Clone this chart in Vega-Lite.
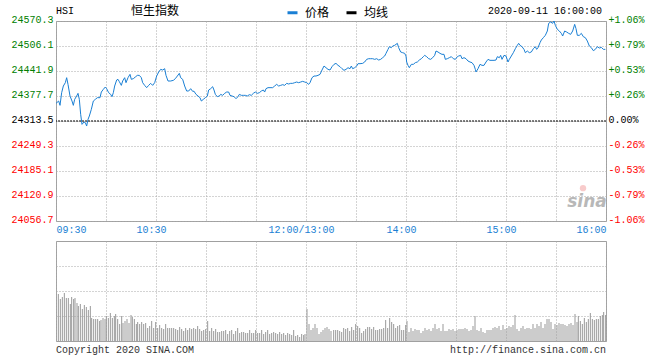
{
"$schema": "https://vega.github.io/schema/vega-lite/v6.json",
"background": "white",
"padding": {"left": 10, "top": 4, "right": 5, "bottom": 4},
"bounds": "flush",
"spacing": 20,
"config": {
  "view": {"stroke": "#a0a0a0", "strokeWidth": 1},
  "font": "Liberation Mono",
  "scale": {"continuousPadding": 0},
  "axis": {"labelFont": "Liberation Mono", "labelFontSize": 10, "ticks": false, "domain": false, "title": null, "gridColor": "#a8a8a8", "gridDash": [1, 2], "gridOpacity": 1, "gridWidth": 1, "labelOverlap": false, "labelBound": false}
},
"datasets": {
  "price": [
{"t":0,"p":24358.8},{"t":1.6,"p":24364.8},{"t":2.4,"p":24353.7},{"t":3.4,"p":24386.2},{"t":4.4,"p":24403.3},{"t":5.6,"p":24411.9},{"t":6.4,"p":24424.7},{"t":7.2,"p":24407.6},{"t":8.4,"p":24377.7},{"t":9.6,"p":24364.8},{"t":10.4,"p":24353.7},{"t":11.2,"p":24369.1},{"t":12.4,"p":24377.7},{"t":13.2,"p":24384.5},{"t":14,"p":24369.1},{"t":14.8,"p":24330.6},{"t":15.6,"p":24304.9},{"t":16.8,"p":24310.9},{"t":17.6,"p":24309.2},{"t":18.4,"p":24300.6},{"t":19.2,"p":24317.7},{"t":20,"p":24326.3},{"t":21.2,"p":24343.4},{"t":22.4,"p":24364.8},{"t":23.6,"p":24369.1},{"t":24.8,"p":24373.4},{"t":26.4,"p":24373.4},{"t":27.2,"p":24387.9},{"t":28.4,"p":24394.8},{"t":29.6,"p":24400.8},{"t":30.4,"p":24396.5},{"t":31.6,"p":24386.2},{"t":32.8,"p":24381.9},{"t":33.6,"p":24376.0},{"t":34.4,"p":24386.2},{"t":35.2,"p":24403.3},{"t":36.4,"p":24418.8},{"t":37.2,"p":24420.5},{"t":38,"p":24414.5},{"t":39.2,"p":24405.0},{"t":40,"p":24416.2},{"t":41.2,"p":24424.7},{"t":42,"p":24411.9},{"t":43.2,"p":24424.7},{"t":44.4,"p":24433.3},{"t":45.2,"p":24420.5},{"t":46.4,"p":24422.2},{"t":47.6,"p":24426.5},{"t":48.8,"p":24430.7},{"t":50,"p":24430.7},{"t":51.2,"p":24424.7},{"t":52,"p":24411.9},{"t":53.2,"p":24405.0},{"t":54.4,"p":24399.1},{"t":55.6,"p":24405.0},{"t":56.8,"p":24410.2},{"t":58,"p":24405.0},{"t":59.2,"p":24411.9},{"t":60.4,"p":24429.0},{"t":61.6,"p":24439.3},{"t":62.8,"p":24446.1},{"t":64,"p":24444.4},{"t":65.2,"p":24447.8},{"t":66,"p":24430.7},{"t":67.2,"p":24416.2},{"t":68.8,"p":24416.2},{"t":70.4,"p":24417.9},{"t":71.6,"p":24422.2},{"t":72.8,"p":24429.0},{"t":74,"p":24435.9},{"t":74.8,"p":24424.7},{"t":76,"p":24420.5},{"t":77.2,"p":24403.3},{"t":78.4,"p":24390.5},{"t":79.6,"p":24390.5},{"t":80.8,"p":24396.5},{"t":82,"p":24389.6},{"t":82.8,"p":24390.0},
{"t":84,"p":24381.9},{"t":85.2,"p":24377.7},{"t":86.4,"p":24373.4},{"t":87.2,"p":24364.8},{"t":88.4,"p":24369.1},{"t":89.6,"p":24373.4},{"t":90.8,"p":24377.7},{"t":91.6,"p":24393.1},{"t":92.8,"p":24396.5},{"t":94,"p":24401.6},{"t":94.8,"p":24393.1},{"t":95.6,"p":24381.9},{"t":96.8,"p":24376.0},{"t":98,"p":24377.7},{"t":98.8,"p":24381.9},{"t":100,"p":24379.4},{"t":101.2,"p":24384.5},{"t":102.4,"p":24387.9},{"t":103.6,"p":24387.9},{"t":104.4,"p":24379.4},{"t":105.6,"p":24377.7},{"t":106.8,"p":24376.0},{"t":108,"p":24370.8},{"t":109.2,"p":24376.0},{"t":110,"p":24381.9},{"t":111.2,"p":24379.4},{"t":112.4,"p":24379.4},{"t":113.6,"p":24379.4},{"t":114.8,"p":24377.7},{"t":116,"p":24381.1},{"t":117.2,"p":24379.4},{"t":118.4,"p":24384.5},{"t":119.6,"p":24387.9},{"t":120.8,"p":24384.5},{"t":122,"p":24386.2},{"t":123.2,"p":24390.5},{"t":124.4,"p":24393.1},{"t":125.2,"p":24387.9},{"t":126,"p":24396.5},{"t":127.2,"p":24399.1},{"t":128.4,"p":24399.1},{"t":130,"p":24399.1},{"t":131.2,"p":24403.3},{"t":132.4,"p":24407.6},{"t":133.6,"p":24403.3},{"t":134.8,"p":24405.0},{"t":136,"p":24406.8},{"t":137.2,"p":24405.0},{"t":138.4,"p":24410.2},{"t":139.6,"p":24408.5},{"t":140.8,"p":24410.2},{"t":142,"p":24410.2},{"t":143.2,"p":24411.9},{"t":144.4,"p":24413.6},{"t":145.6,"p":24411.9},{"t":146.8,"p":24413.6},{"t":148,"p":24415.3},{"t":149.2,"p":24413.6},{"t":150.4,"p":24411.9},{"t":151.6,"p":24407.6},{"t":152.4,"p":24411.9},{"t":153.6,"p":24424.7},{"t":154.8,"p":24429.0},{"t":156,"p":24429.0},{"t":157.2,"p":24430.7},{"t":158.4,"p":24433.3},{"t":159.6,"p":24444.4},{"t":160.8,"p":24454.7},{"t":162,"p":24450.4},{"t":163.2,"p":24446.1},{"t":164.4,"p":24444.4},{"t":165.6,"p":24453.0},{"t":166.8,"p":24459.0},
{"t":168,"p":24461.5},{"t":169.2,"p":24456.4},{"t":170.4,"p":24453.0},{"t":171.6,"p":24447.8},{"t":172.8,"p":24443.6},{"t":174,"p":24446.1},{"t":175.2,"p":24450.4},{"t":176.4,"p":24447.8},{"t":177.2,"p":24454.7},{"t":178,"p":24447.8},{"t":179.2,"p":24450.4},{"t":180.4,"p":24454.7},{"t":181.2,"p":24460.7},{"t":182.4,"p":24460.7},{"t":184,"p":24461.5},{"t":185.2,"p":24465.0},{"t":186.4,"p":24471.8},{"t":187.6,"p":24473.5},{"t":188.8,"p":24473.5},{"t":190,"p":24473.5},{"t":191.2,"p":24471.8},{"t":192.4,"p":24473.5},{"t":193.6,"p":24470.1},{"t":194.8,"p":24471.8},{"t":196,"p":24476.1},{"t":197.2,"p":24480.4},{"t":198,"p":24487.2},{"t":199.2,"p":24497.5},{"t":200,"p":24504.3},{"t":201.2,"p":24501.8},{"t":202,"p":24506.1},{"t":203.2,"p":24507.8},{"t":204,"p":24510.3},{"t":204.8,"p":24512.9},{"t":205.6,"p":24501.8},{"t":206.8,"p":24490.7},{"t":208,"p":24488.9},{"t":209.2,"p":24487.2},{"t":210,"p":24480.4},{"t":210.4,"p":24465.0},{"t":211.2,"p":24456.4},{"t":212,"p":24450.4},{"t":213.2,"p":24459.0},{"t":214.4,"p":24459.0},{"t":215.6,"p":24463.3},{"t":216.8,"p":24465.0},{"t":218,"p":24470.1},{"t":219.2,"p":24473.5},{"t":220.4,"p":24478.7},{"t":221.2,"p":24482.1},{"t":222.4,"p":24478.7},{"t":223.6,"p":24473.5},{"t":224.8,"p":24471.8},{"t":226,"p":24476.1},{"t":227.2,"p":24482.1},{"t":228,"p":24493.2},{"t":229.2,"p":24490.7},{"t":230.4,"p":24487.2},{"t":231.6,"p":24484.7},{"t":232.8,"p":24484.7},{"t":233.6,"p":24471.8},{"t":234.8,"p":24473.5},{"t":236,"p":24476.1},{"t":237.2,"p":24478.7},{"t":238.4,"p":24473.5},{"t":239.6,"p":24471.8},{"t":240.8,"p":24478.7},{"t":241.6,"p":24480.4},{"t":242.8,"p":24482.1},{"t":243.6,"p":24473.5},{"t":244.8,"p":24476.1},{"t":246,"p":24473.5},{"t":247.2,"p":24467.5},{"t":248.4,"p":24465.0},{"t":249.6,"p":24463.3},{"t":250.8,"p":24456.4},{"t":251.6,"p":24446.1},
{"t":252,"p":24439.3},{"t":253.2,"p":24447.8},{"t":254.4,"p":24459.0},{"t":255.6,"p":24456.4},{"t":256.8,"p":24456.4},{"t":258,"p":24465.0},{"t":259.2,"p":24471.8},{"t":260.4,"p":24469.3},{"t":261.6,"p":24469.3},{"t":262.8,"p":24469.3},{"t":264,"p":24470.1},{"t":264.8,"p":24478.7},{"t":266,"p":24476.1},{"t":266.8,"p":24482.1},{"t":267.6,"p":24471.8},{"t":268.8,"p":24482.1},{"t":270,"p":24480.4},{"t":271.2,"p":24465.0},{"t":272,"p":24471.8},{"t":273.2,"p":24480.4},{"t":274.4,"p":24488.9},{"t":275.6,"p":24499.2},{"t":276.8,"p":24507.8},{"t":277.6,"p":24512.9},{"t":278.4,"p":24507.8},{"t":279.6,"p":24504.3},{"t":280.8,"p":24497.5},{"t":281.6,"p":24488.9},{"t":282.8,"p":24493.2},{"t":284,"p":24488.9},{"t":285.2,"p":24490.7},{"t":286.4,"p":24499.2},{"t":287.6,"p":24504.3},{"t":288.4,"p":24497.5},{"t":289.2,"p":24501.8},{"t":290.4,"p":24514.6},{"t":291.2,"p":24521.5},{"t":292.4,"p":24527.5},{"t":293.6,"p":24533.5},{"t":294.8,"p":24544.6},{"t":295.6,"p":24564.3},{"t":296.8,"p":24567.7},{"t":298,"p":24564.3},{"t":298.8,"p":24570.3},{"t":299.6,"p":24559.1},{"t":300.8,"p":24548.9},{"t":302,"p":24544.6},{"t":303.2,"p":24538.6},{"t":304,"p":24531.7},{"t":305.2,"p":24544.6},{"t":306.4,"p":24542.0},{"t":307.6,"p":24538.6},{"t":308.8,"p":24536.0},{"t":310,"p":24544.6},{"t":311.2,"p":24561.7},{"t":312,"p":24550.6},{"t":312.8,"p":24533.5},{"t":314,"p":24533.5},{"t":315.2,"p":24538.6},{"t":316.4,"p":24530.0},{"t":317.6,"p":24527.5},{"t":318.8,"p":24518.9},{"t":320,"p":24506.1},{"t":321.2,"p":24501.8},{"t":322.4,"p":24494.1},{"t":323.6,"p":24497.5},{"t":324.8,"p":24504.3},{"t":326,"p":24500.9},{"t":327.2,"p":24502.6},{"t":328.4,"p":24497.5},{"t":329.6,"p":24497.5}
  ],
  "vol": [
{"t":1.4,"v":47},{"t":2.6,"v":42},{"t":3.8,"v":44},{"t":5,"v":48},{"t":6.2,"v":43},{"t":7.4,"v":43},{"t":8.6,"v":37},{"t":9.4,"v":44},{"t":10.6,"v":42},{"t":11.4,"v":43},{"t":12.6,"v":38},{"t":13.4,"v":35},{"t":14.6,"v":37},{"t":15.8,"v":32},{"t":17,"v":36},{"t":18.2,"v":34},{"t":19.4,"v":31},{"t":20.6,"v":35},{"t":21.4,"v":23},{"t":22.6,"v":22},{"t":23.8,"v":22},{"t":25,"v":22},{"t":26.2,"v":20},{"t":27,"v":21},{"t":28.2,"v":23},{"t":29.4,"v":22},{"t":30.2,"v":25},{"t":31.4,"v":23},{"t":32.6,"v":28},{"t":33.8,"v":23},{"t":35,"v":25},{"t":35.8,"v":27},{"t":37,"v":22},{"t":38.2,"v":17},{"t":39.4,"v":25},{"t":40.2,"v":18},{"t":41.4,"v":20},{"t":42.6,"v":22},{"t":43.8,"v":18},{"t":45,"v":26},{"t":45.8,"v":24},{"t":47,"v":22},{"t":48.2,"v":17},{"t":49,"v":19},{"t":50.2,"v":17},{"t":51.4,"v":19},{"t":52.6,"v":17},{"t":53.8,"v":18},{"t":55,"v":13},{"t":56.2,"v":15},{"t":57.4,"v":20},{"t":58.6,"v":13},{"t":59.8,"v":19},{"t":61,"v":13},{"t":62.2,"v":16},{"t":63.4,"v":13},{"t":64.6,"v":12},{"t":65.8,"v":17},{"t":67,"v":13},{"t":68.2,"v":13},{"t":69.4,"v":13},{"t":70.6,"v":13},{"t":71.8,"v":12},{"t":73,"v":11},{"t":74.2,"v":14},{"t":75.4,"v":12},{"t":76.6,"v":10},{"t":77.8,"v":13},{"t":79,"v":11},{"t":80.2,"v":13},{"t":81.4,"v":12},{"t":82.6,"v":13},{"t":83.8,"v":12},{"t":85,"v":15},{"t":86.2,"v":12},{"t":87.4,"v":10},{"t":88.6,"v":11},{"t":89.8,"v":12},{"t":91,"v":20},{"t":92.2,"v":10},{"t":93.4,"v":13},{"t":94.6,"v":10},{"t":95.8,"v":12},{"t":97,"v":9},{"t":98.2,"v":9},{"t":99.4,"v":10},{"t":100.6,"v":10},{"t":101.8,"v":11},{"t":103,"v":7},{"t":104.2,"v":10},{"t":105.4,"v":11},{"t":106.6,"v":7},{"t":107.8,"v":10},{"t":109,"v":13},{"t":110.2,"v":8},{"t":111.4,"v":9},{"t":112.6,"v":9},{"t":113.8,"v":8},{"t":115,"v":8},{"t":116.2,"v":11},{"t":117.4,"v":8},{"t":118.6,"v":8},{"t":119.8,"v":11},{"t":121,"v":8},{"t":122.2,"v":8},{"t":123.4,"v":11},{"t":124.6,"v":7},{"t":125.8,"v":9},{"t":127,"v":11},{"t":128.2,"v":7},{"t":129.4,"v":8},{"t":130.6,"v":9},{"t":131.8,"v":8},{"t":133,"v":7},{"t":134.2,"v":9},{"t":135.4,"v":7},{"t":136.6,"v":8},{"t":137.8,"v":6},{"t":139,"v":8},{"t":140.2,"v":7},{"t":141.4,"v":6},{"t":142.6,"v":11},{"t":143.8,"v":5},{"t":145,"v":6},{"t":146.2,"v":4},{"t":147.4,"v":7},{"t":148.6,"v":6},{"t":149.4,"v":7},{"t":150.6,"v":32},{"t":151.8,"v":17},{"t":153,"v":11},{"t":154.2,"v":13},{"t":155.4,"v":17},{"t":156.6,"v":13},{"t":157.8,"v":7},{"t":159,"v":9},{"t":160.2,"v":11},{"t":161.4,"v":13},{"t":162.6,"v":14},{"t":163.8,"v":12},{"t":165,"v":10},
{"t":166.6,"v":11},{"t":167.8,"v":11},{"t":169,"v":11},{"t":170.2,"v":10},{"t":171.4,"v":9},{"t":172.6,"v":13},{"t":173.8,"v":12},{"t":175,"v":13},{"t":176.2,"v":10},{"t":177.4,"v":14},{"t":178.6,"v":11},{"t":179.8,"v":17},{"t":181,"v":15},{"t":182.2,"v":13},{"t":183.4,"v":8},{"t":184.6,"v":10},{"t":185.8,"v":12},{"t":187,"v":14},{"t":188.2,"v":14},{"t":189.4,"v":12},{"t":190.6,"v":14},{"t":191.8,"v":11},{"t":193,"v":11},{"t":194.2,"v":12},{"t":195.4,"v":12},{"t":196.6,"v":13},{"t":197.8,"v":21},{"t":199,"v":13},{"t":200.2,"v":23},{"t":201.4,"v":19},{"t":202.6,"v":17},{"t":203.8,"v":13},{"t":205,"v":15},{"t":206.2,"v":16},{"t":207.4,"v":11},{"t":208.6,"v":11},{"t":209.8,"v":16},{"t":210.6,"v":20},{"t":211.8,"v":9},{"t":213,"v":13},{"t":214.2,"v":10},{"t":215.4,"v":12},{"t":216.6,"v":11},{"t":217.8,"v":11},{"t":219,"v":8},{"t":220.2,"v":10},{"t":221.4,"v":13},{"t":222.6,"v":11},{"t":223.8,"v":12},{"t":225,"v":10},{"t":226.2,"v":13},{"t":227.4,"v":17},{"t":228.6,"v":12},{"t":229.8,"v":13},{"t":231,"v":10},{"t":232.2,"v":17},{"t":233.4,"v":10},{"t":234.6,"v":10},{"t":235.8,"v":12},{"t":237,"v":11},{"t":238.2,"v":12},{"t":239.4,"v":10},{"t":240.6,"v":11},{"t":241.8,"v":12},{"t":243,"v":12},{"t":244.2,"v":12},{"t":245.4,"v":13},{"t":246.6,"v":12},{"t":247.8,"v":10},{"t":249,"v":11},{"t":250.2,"v":15},{"t":251.4,"v":25},{"t":252.6,"v":11},{"t":253.8,"v":10},{"t":255,"v":13},{"t":256.2,"v":9},{"t":257.4,"v":8},{"t":258.6,"v":11},{"t":259.8,"v":11},{"t":261,"v":11},{"t":262.2,"v":13},{"t":263.4,"v":14},{"t":264.6,"v":13},{"t":265.8,"v":15},{"t":267,"v":11},{"t":268.2,"v":16},{"t":269.4,"v":12},{"t":270.6,"v":13},{"t":271.8,"v":15},{"t":273,"v":14},{"t":274.2,"v":16},{"t":275.4,"v":26},{"t":276.6,"v":12},{"t":277.8,"v":10},{"t":279,"v":13},{"t":280.2,"v":15},{"t":281.4,"v":12},{"t":282.6,"v":13},{"t":283.8,"v":13},{"t":285,"v":12},{"t":286.2,"v":17},{"t":287.4,"v":13},{"t":288.6,"v":17},{"t":289.8,"v":15},{"t":291,"v":19},{"t":292.2,"v":13},{"t":293.4,"v":17},{"t":294.6,"v":22},{"t":295.8,"v":22},{"t":297,"v":19},{"t":298.2,"v":12},{"t":299.4,"v":17},{"t":300.6,"v":16},{"t":301.8,"v":18},{"t":303,"v":17},{"t":304.2,"v":17},{"t":305.4,"v":16},{"t":306.6,"v":15},{"t":307.8,"v":17},{"t":309,"v":18},{"t":310.2,"v":16},{"t":311.4,"v":27},{"t":312.6,"v":19},{"t":313.4,"v":25},{"t":314.6,"v":20},{"t":315.8,"v":17},{"t":317,"v":23},{"t":318.2,"v":19},{"t":319.4,"v":22},{"t":320.6,"v":28},{"t":321.8,"v":22},{"t":323,"v":21},{"t":324.2,"v":22},{"t":325.4,"v":22},{"t":326.6,"v":25},{"t":327.8,"v":26},{"t":328.6,"v":29},{"t":329.8,"v":26}
  ]
},
"vconcat": [
  {
    "width": 550,
    "height": 200,
    "layer": [
      {
        "data": {"name": "price"},
        "mark": {"type": "line", "strokeWidth": 1, "interpolate": "linear"},
        "encoding": {
          "x": {"field": "t", "type": "quantitative",
            "scale": {"domain": [0, 330], "nice": false, "zero": false, "padding": 0},
            "axis": {"values": [0, 30, 60, 90, 120, 150, 180, 210, 240, 270, 300, 330], "grid": true, "labels": true, "labelFlush": false, "labelPadding": 3, "labelBaseline": "top", "labelColor": "#1a7fd4",
              "labelAlign": {"condition": [{"test": "datum.value < 1", "value": "left"}, {"test": "datum.value > 329", "value": "right"}], "value": "center"},
              "labelOffset": {"condition": [{"test": "datum.value < 1", "value": 0}, {"test": "datum.value > 329", "value": 0}], "value": -5},
              "labelExpr": "datum.value == 0 ? '09:30' : datum.value == 60 ? '10:30' : datum.value == 150 ? '12:00/13:00' : datum.value == 210 ? '14:00' : datum.value == 270 ? '15:00' : datum.value == 330 ? '16:00' : ''"}},
          "y": {"field": "p", "type": "quantitative",
            "scale": {"domain": [24056.7, 24570.3], "nice": false, "zero": false, "padding": 0},
            "axis": {"orient": "left", "values": [24056.7, 24120.9, 24185.1, 24249.3, 24313.5, 24377.7, 24441.9, 24506.1, 24570.3], "format": ".1f", "grid": true, "labelFlush": false, "labelBaseline": "alphabetic", "labelOffset": 1, "labelPadding": 3,
              "labelColor": {"condition": [{"test": "datum.value > 24313.6", "value": "#008000"}, {"test": "datum.value < 24313.4", "value": "#ff0000"}], "value": "#000000"}}},
          "color": {"datum": "价格", "type": "nominal",
            "scale": {"domain": ["价格", "均线"], "range": ["#1a7fd4", "#000000"]},
            "legend": {"orient": "none", "legendX": 230, "legendY": -15, "direction": "horizontal", "title": null, "symbolType": "stroke", "symbolSize": 100, "symbolStrokeWidth": 3, "labelFont": "Noto Sans CJK SC", "labelFontSize": 12, "labelColor": "#000000", "labelOffset": 6, "columnPadding": 10, "padding": 0}}
        }
      },
      {
        "data": {"values": [{}]},
        "mark": {"type": "rule", "strokeDash": [2, 1], "color": "#000000", "strokeWidth": 1},
        "encoding": {
          "y": {"datum": 24313.5, "type": "quantitative",
            "axis": {"orient": "right", "values": [24056.7, 24120.9, 24185.1, 24249.3, 24313.5, 24377.7, 24441.9, 24506.1, 24570.3], "grid": false, "labelFlush": false, "labelBaseline": "alphabetic", "labelOffset": 1, "labelPadding": 2,
              "labelExpr": "(abs(datum.value - 24313.5) < 0.01 ? '' : (datum.value > 24313.5 ? '+' : '-')) + format(abs(datum.value - 24313.5) / 24313.5 * 100, '.2f') + '%'",
              "labelColor": {"condition": [{"test": "datum.value > 24313.6", "value": "#008000"}, {"test": "datum.value < 24313.4", "value": "#ff0000"}], "value": "#000000"}}}
        }
      },
      {
        "data": {"values": [{"s": "HSI"}]},
        "mark": {"type": "text", "align": "left", "baseline": "alphabetic", "font": "Liberation Mono", "fontSize": 10, "color": "#000000"},
        "encoding": {
          "x": {"datum": 0, "type": "quantitative"},
          "y": {"datum": 24588.3, "type": "quantitative", "axis": null},
          "text": {"field": "s"}
        }
      },
      {
        "data": {"values": [{"s": "恒生指数"}]},
        "mark": {"type": "text", "align": "left", "baseline": "alphabetic", "font": "Noto Sans CJK SC", "fontSize": 12, "color": "#000000"},
        "encoding": {
          "x": {"datum": 45, "type": "quantitative"},
          "y": {"datum": 24586.5, "type": "quantitative", "axis": null},
          "text": {"field": "s"}
        }
      },
      {
        "data": {"values": [{"s": "2020-09-11 16:00:00"}]},
        "mark": {"type": "text", "align": "right", "baseline": "alphabetic", "font": "Liberation Mono", "fontSize": 10, "color": "#000000"},
        "encoding": {
          "x": {"datum": 327.6, "type": "quantitative"},
          "y": {"datum": 24588.3, "type": "quantitative", "axis": null},
          "text": {"field": "s"}
        }
      },
      {
        "data": {"values": [{"s": "sina"}]},
        "mark": {"type": "text", "align": "center", "baseline": "alphabetic", "font": "DejaVu Sans", "fontSize": 17, "fontStyle": "italic", "fontWeight": "bold", "color": "#b8b8b8"},
        "encoding": {
          "x": {"datum": 318.6, "type": "quantitative"},
          "y": {"datum": 24092, "type": "quantitative", "axis": null},
          "text": {"field": "s"}
        }
      },
      {
        "data": {"values": [{}]},
        "mark": {"type": "point", "filled": true, "size": 40, "color": "#f4a8a8", "opacity": 0.6},
        "encoding": {
          "x": {"datum": 316.2, "type": "quantitative"},
          "y": {"datum": 24141, "type": "quantitative", "axis": null}
        }
      }
    ],
    "resolve": {"axis": {"y": "independent"}}
  },
  {
    "width": 550,
    "height": 100,
    "layer": [
      {
        "data": {"name": "vol"},
        "mark": {"type": "bar", "width": 1, "color": "#999999"},
        "encoding": {
          "x": {"field": "t", "type": "quantitative",
            "scale": {"domain": [0, 330], "nice": false, "zero": false, "padding": 0},
            "axis": {"values": [0, 30, 60, 90, 120, 150, 180, 210, 240, 270, 300, 330], "grid": true, "labels": false}},
          "y": {"field": "v", "type": "quantitative",
            "scale": {"domain": [0, 100], "nice": false, "padding": 0},
            "axis": {"values": [25, 50, 75], "grid": true, "labels": false}}
        }
      },
      {
        "data": {"values": [{"s": "Copyright 2020 SINA.COM"}]},
        "mark": {"type": "text", "align": "left", "baseline": "alphabetic", "font": "Liberation Mono", "fontSize": 10, "color": "#333333"},
        "encoding": {
          "x": {"datum": 0, "type": "quantitative"},
          "y": {"datum": -12, "type": "quantitative"},
          "text": {"field": "s"}
        }
      },
      {
        "data": {"values": [{"s": "http://finance.sina.com.cn"}]},
        "mark": {"type": "text", "align": "right", "baseline": "alphabetic", "font": "Liberation Mono", "fontSize": 10, "color": "#333333"},
        "encoding": {
          "x": {"datum": 330, "type": "quantitative"},
          "y": {"datum": -12, "type": "quantitative"},
          "text": {"field": "s"}
        }
      }
    ]
  }
]
}
